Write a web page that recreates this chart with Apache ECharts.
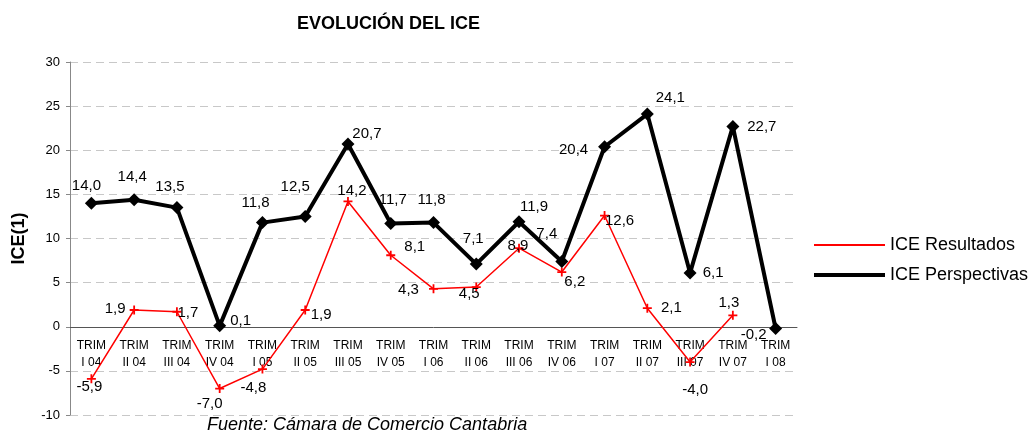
<!DOCTYPE html>
<html lang="es">
<head>
    <meta charset="UTF-8">
    <title>Evolución del ICE</title>
    <script src="https://cdn.jsdelivr.net/npm/echarts@6/dist/echarts.min.js"></script>
</head>
<style type="text/css">
    html,body{
        margin: 0;
        padding: 0;
        background: #fff;
    }
    #chart{
        width: 1034px;
        height: 432px;
    }
</style>
<body>
<div id="chart"></div>
<script>
    // datos
    var trimestres = ['TRIM I 04','TRIM II 04','TRIM III 04','TRIM IV 04','TRIM I 05','TRIM II 05','TRIM III 05','TRIM IV 05',
        'TRIM I 06','TRIM II 06','TRIM III 06','TRIM IV 06','TRIM I 07','TRIM II 07','TRIM III 07','TRIM IV 07','TRIM I 08'];
    var resultados = [-5.9, 1.9, 1.7, -7.0, -4.8, 1.9, 14.2, 8.1, 4.3, 4.5, 8.9, 6.2, 12.6, 2.1, -4.0, 1.3];
    var perspectivas = [14.0, 14.4, 13.5, 0.1, 11.8, 12.5, 20.7, 11.7, 11.8, 7.1, 11.9, 7.4, 20.4, 24.1, 6.1, 22.7, -0.2];
    var yTicks = {min: -10, max: 30, interval: 5};

    // desplazamiento de cada etiqueta respecto al punto
    var offResultados = [[-2,8],[-19,-1],[11,1],[-10,15],[-9,19],[16,5],[4,-11],[24,-8],[-25,1],[-7,7],[-1,-2],[13,10],[15,5],[24,0],[5,28],[-4,-12]];
    var offPerspectivas = [[-5,-17],[-2,-23],[-7,-21],[21,-5],[-7,-20],[-10,-30],[19,-10],[2,-24],[-2,-23],[-3,-25],[15,-15],[-15,-28],[-31,3],[23,-16],[23,0],[29,0],[-22,6]];

    var fuente = 'Arial, "Liberation Sans", sans-serif';
    var gridTop = 62, gridBottom = 17, alto = 432;

    function fmt(v){
        return v.toFixed(1).replace('.', ',');
    }
    function conEtiquetas(vals, offs){
        var out = [];
        for(var i=0;i<vals.length;i++){
            out.push({value: vals[i], label: {offset: offs[i]}});
        }
        return out;
    }
    // el eje x va sobre el cero: se sube desde el borde inferior
    var altoPlot = alto - gridTop - gridBottom;
    var subirEje = altoPlot * (0 - yTicks.min) / (yTicks.max - yTicks.min);

    var myChart = echarts.init(document.getElementById('chart'));
    var options = {
        animation: false,
        textStyle: {fontFamily: fuente},
        title: {
            text: 'EVOLUCIÓN DEL ICE',
            left: 292,
            top: 10,
            textStyle: {fontSize: 18, fontWeight: 'bold', color: '#000', fontFamily: fuente}
        },
        graphic: [{
            type: 'text',
            left: 207,
            top: 416,
            style: {
                text: 'Fuente: Cámara de Comercio Cantabria',
                font: 'italic 18px ' + fuente,
                fill: '#000'
            }
        }],
        legend: {
            orient: 'vertical',
            left: 809,
            top: 231,
            itemWidth: 71,
            itemHeight: 14,
            itemGap: 12,
            textStyle: {fontSize: 18, lineHeight: 18, color: '#000', fontFamily: fuente},
            data: [
                {name: 'ICE Resultados', icon: 'path://M0,0 H70 V2 H0 Z'},
                {name: 'ICE Perspectivas', icon: 'path://M0,0 H70 V4 H0 Z'}
            ]
        },
        grid: {
            left: 70,
            right: 237,
            top: gridTop,
            bottom: gridBottom,
            outerBoundsMode: 'none'
        },
        xAxis: {
            type: 'category',
            data: trimestres,
            boundaryGap: true,
            offset: -subirEje,
            axisLine: {onZero: false, lineStyle: {color: '#555', width: 1}},
            axisTick: {length: 4, lineStyle: {color: '#555'}},
            axisLabel: {
                interval: 0,
                margin: 10,
                fontSize: 12,
                lineHeight: 17,
                color: '#000',
                fontFamily: fuente,
                formatter: function(v){
                    return v.replace(' ', '\n');
                }
            }
        },
        yAxis: {
            type: 'value',
            min: yTicks.min,
            max: yTicks.max,
            interval: yTicks.interval,
            name: 'ICE(1)',
            nameLocation: 'middle',
            nameRotate: 90,
            nameGap: 42,
            nameTextStyle: {fontSize: 18, fontWeight: 'bold', color: '#000', fontFamily: fuente},
            axisLine: {show: true, lineStyle: {color: '#888'}},
            axisTick: {show: true, length: 4, lineStyle: {color: '#888'}},
            axisLabel: {margin: 10, fontSize: 13, color: '#000', fontFamily: fuente},
            splitLine: {show: true, lineStyle: {color: '#c8c8c8', type: [8, 5]}}
        },
        series: [{
            name: 'ICE Resultados',
            type: 'line',
            data: conEtiquetas(resultados, offResultados),
            symbol: 'path://M4,0 L6,0 L6,4 L10,4 L10,6 L6,6 L6,10 L4,10 L4,6 L0,6 L0,4 L4,4 Z',
            symbolSize: 9,
            color: '#ff0000',
            lineStyle: {color: '#ff0000', width: 1.5},
            itemStyle: {color: '#ff0000'},
            label: {
                show: true,
                position: 'inside',
                align: 'center',
                verticalAlign: 'middle',
                fontSize: 15,
                color: '#000',
                fontFamily: fuente,
                formatter: function(p){ return fmt(p.value); }
            }
        }, {
            name: 'ICE Perspectivas',
            type: 'line',
            data: conEtiquetas(perspectivas, offPerspectivas),
            symbol: 'diamond',
            symbolSize: 13,
            color: '#000',
            lineStyle: {color: '#000', width: 4},
            itemStyle: {color: '#000'},
            label: {
                show: true,
                position: 'inside',
                align: 'center',
                verticalAlign: 'middle',
                fontSize: 15,
                color: '#000',
                fontFamily: fuente,
                formatter: function(p){ return fmt(p.value); }
            }
        }]
    };
    myChart.setOption(options);
</script>
</body>
</html>
